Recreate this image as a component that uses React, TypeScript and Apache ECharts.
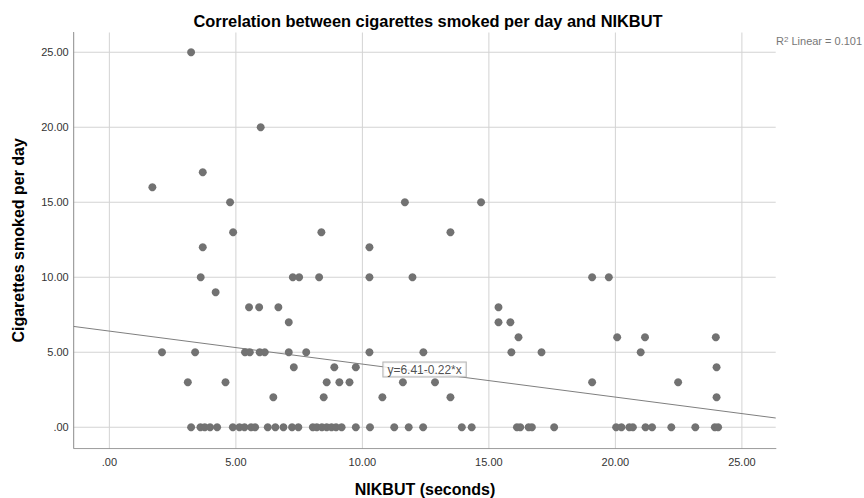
import React, { useEffect, useRef } from "react";
import * as echarts from "echarts";

const TITLE = "Correlation between cigarettes smoked per day and NIKBUT";
const X_NAME = "NIKBUT (seconds)";
const Y_NAME = "Cigarettes smoked per day";

// visible axis extents (SPSS pads the data range a little on every side)
const X_MIN = -1.41;
const X_MAX = 26.36;
const Y_MIN = -1.43;
const Y_MAX = 26.35;

// reference lines of the grid
const X_GRID = [0, 5, 10, 15, 20, 25];
const Y_GRID = [0, 5, 10, 15, 20, 25];

// linear fit
const FIT_INTERCEPT = 6.41;
const FIT_SLOPE = -0.22;
const R_SQUARED = 0.101;
const FIT_LABEL_AT = [10.83, 3.85];

// NIKBUT (seconds) of each respondent, grouped by cigarettes smoked per day
const nikbutAt25 = [3.23];
const nikbutAt20 = [5.98];
const nikbutAt17 = [3.69];
const nikbutAt16 = [1.7];
const nikbutAt15 = [4.77, 11.68, 14.69];
const nikbutAt13 = [4.89, 8.38, 13.48];
const nikbutAt12 = [3.69, 10.28];
const nikbutAt10 = [3.61, 7.25, 7.5, 8.29, 10.28, 11.98, 19.08, 19.74];
const nikbutAt9 = [4.2];
const nikbutAt8 = [5.52, 5.92, 6.68, 15.38];
const nikbutAt7 = [7.09, 15.38, 15.85];
const nikbutAt6 = [16.17, 20.07, 21.17, 23.97];
const nikbutAt5 = [2.08, 3.39, 5.36, 5.55, 5.94, 6.14, 7.09, 7.78, 10.28, 12.41, 15.89, 17.08, 21.0];
const nikbutAt4 = [7.29, 8.89, 9.74, 24.0];
const nikbutAt3 = [3.1, 4.59, 8.59, 9.09, 9.49, 11.6, 12.87, 19.08, 22.48];
const nikbutAt2 = [6.48, 8.47, 10.79, 13.48, 24.0];
const nikbutAt0 = [
  3.23, 3.6, 3.77, 3.98, 4.26, 4.88, 5.14, 5.34, 5.6, 5.76, 6.26, 6.56, 6.88, 7.22, 7.47,
  8.04, 8.2, 8.4, 8.59, 8.78, 8.96, 9.18, 9.74, 10.3, 11.26, 11.83, 12.4, 13.93, 14.32,
  16.11, 16.24, 16.57, 16.7, 17.58, 20.03, 20.24, 20.55, 20.69, 21.19, 21.45, 22.21,
  23.16, 23.93, 24.06,
];

const groups: [number, number[]][] = [
  [25, nikbutAt25],
  [20, nikbutAt20],
  [17, nikbutAt17],
  [16, nikbutAt16],
  [15, nikbutAt15],
  [13, nikbutAt13],
  [12, nikbutAt12],
  [10, nikbutAt10],
  [9, nikbutAt9],
  [8, nikbutAt8],
  [7, nikbutAt7],
  [6, nikbutAt6],
  [5, nikbutAt5],
  [4, nikbutAt4],
  [3, nikbutAt3],
  [2, nikbutAt2],
  [0, nikbutAt0],
];

const FONT = "'Liberation Sans', Arial, Helvetica, sans-serif";

const tickText = (v: number) => (v === 0 ? ".00" : v.toFixed(2));

// a straight two-point line drawn in data space
const rule = (data: number[][], color: string, z: number) => ({
  type: "line" as const,
  data,
  symbol: "none",
  silent: true,
  clip: true,
  emphasis: { disabled: true },
  lineStyle: { color, width: 1 },
  z,
});

export default function App() {
  const ref = useRef<HTMLDivElement>(null);

  useEffect(() => {
    if (!ref.current) return;
    const chart = echarts.init(ref.current, undefined, { renderer: "svg" });

    const points: number[][] = [];
    groups.forEach(([cigs, xs]) => xs.forEach((x) => points.push([x, cigs])));

    const fitLine = [
      [X_MIN, FIT_INTERCEPT + FIT_SLOPE * X_MIN],
      [X_MAX, FIT_INTERCEPT + FIT_SLOPE * X_MAX],
    ];
    const fitText = `y=${FIT_INTERCEPT.toFixed(2)}-${Math.abs(FIT_SLOPE).toFixed(2)}*x`;

    const gridSeries = [
      ...X_GRID.map((v) => rule([[v, Y_MIN], [v, Y_MAX]], "#d3d3d3", 0)),
      ...Y_GRID.map((v) => rule([[X_MIN, v], [X_MAX, v]], "#d3d3d3", 0)),
    ];
    const axisSeries = [
      rule([[X_MIN, Y_MIN], [X_MIN, Y_MAX]], "#8c8c8c", 1),
      rule([[X_MIN, Y_MIN], [X_MAX, Y_MIN]], "#8c8c8c", 1),
    ];

    const axisCommon = {
      type: "value" as const,
      axisTick: { show: false },
      axisLine: { show: false },
      axisLabel: {
        color: "#333",
        fontSize: 11,
        fontFamily: FONT,
        showMinLabel: false,
        showMaxLabel: false,
        formatter: tickText,
      },
      splitLine: { show: false },
      nameLocation: "middle" as const,
      nameTextStyle: { color: "#000", fontSize: 16, fontWeight: "bold" as const, fontFamily: FONT },
    };

    chart.setOption({
      animation: false,
      backgroundColor: "#fff",
      grid: { left: 73.7, right: 87.7, top: 32, bottom: 49.3, outerBoundsMode: "none" },
      xAxis: {
        ...axisCommon,
        min: X_MIN,
        max: X_MAX,
        name: X_NAME,
        nameGap: 33,
        axisLabel: { ...axisCommon.axisLabel, margin: 8 },
      },
      yAxis: {
        ...axisCommon,
        min: Y_MIN,
        max: Y_MAX,
        name: Y_NAME,
        nameGap: 47,
        axisLabel: { ...axisCommon.axisLabel, margin: 5 },
      },
      graphic: [
        // the plot is open at the top and on the right: keep those edges clear
        {
          type: "rect",
          z: 100,
          silent: true,
          shape: { x: 74.5, y: 30.5, width: 704, height: 2.1 },
          style: { fill: "#fff" },
        },
        {
          type: "rect",
          z: 100,
          silent: true,
          shape: { x: 775.7, y: 30.5, width: 2.5, height: 417.6 },
          style: { fill: "#fff" },
        },
        {
          type: "text",
          z: 101,
          x: 428,
          y: 21,
          style: {
            text: TITLE,
            fill: "#000",
            fontSize: 16.4,
            fontWeight: "bold",
            fontFamily: FONT,
            align: "center",
            verticalAlign: "middle",
            textAlign: "center",
            textVerticalAlign: "middle",
          },
        },
        {
          type: "text",
          z: 101,
          left: 776,
          top: 35,
          style: {
            text: `{n|R}{s|2}{n| Linear = ${R_SQUARED}}`,
            rich: {
              n: { fill: "#777", fontSize: 11, fontFamily: FONT, verticalAlign: "bottom" },
              s: { fill: "#777", fontSize: 8, fontFamily: FONT, verticalAlign: "top" },
            },
          },
        },
      ],
      series: [
        ...gridSeries,
        ...axisSeries,
        rule(fitLine, "#7f7f7f", 1),
        {
          type: "scatter",
          data: points,
          symbolSize: 8,
          itemStyle: { color: "#727272", opacity: 1 },
          z: 2,
        },
        {
          type: "scatter",
          data: [FIT_LABEL_AT],
          symbolSize: 0,
          silent: true,
          z: 3,
          label: {
            show: true,
            position: "right",
            distance: 0,
            formatter: fitText,
            color: "#222",
            fontSize: 12,
            fontFamily: FONT,
            lineHeight: 12,
            backgroundColor: "#fff",
            borderColor: "#a0a0a0",
            borderWidth: 1,
            padding: [1, 4, 1, 4],
          },
        },
      ],
    });

    return () => chart.dispose();
  }, []);

  return (
    <div
      ref={ref}
      style={{ position: "fixed", left: 0, top: 0, width: 864, height: 498, background: "#fff" }}
    />
  );
}
